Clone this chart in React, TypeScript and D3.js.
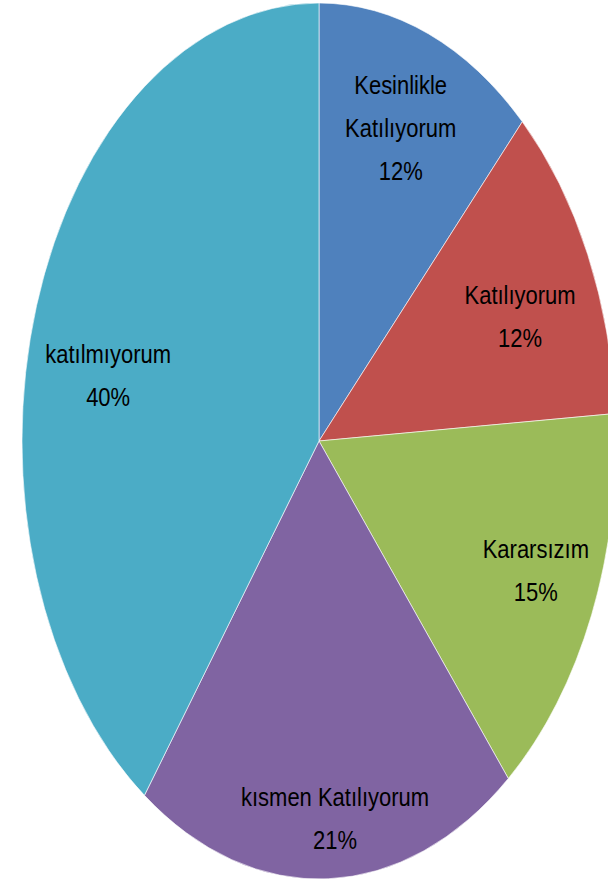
import React, { useEffect } from "react";
import * as d3 from "d3";

const categories = ["Kesinlikle Katılıyorum", "Katılıyorum", "Kararsızım", "kısmen Katılıyorum", "katılmıyorum"];
const labelLines = [["Kesinlikle", "Katılıyorum"], ["Katılıyorum"], ["Kararsızım"], ["kısmen Katılıyorum"], ["katılmıyorum"]];
const values = [12, 12, 15, 21, 40];
const colors = ["#4F81BD", "#C0504D", "#9BBB59", "#8064A2", "#4BACC6"];

// label anchor (fraction of rx, fraction of ry) relative to pie centre — layout only
const labelAnchor: [number, number][] = [
  [0.275, -0.755],
  [0.677, -0.325],
  [0.73, 0.256],
  [0.054, 0.821],
  [-0.71, -0.19],
];

const W = 608;
const H = 885;
const cx = 319;
const cy = 441;
const rx = 297;
const ry = 438;

export default function App() {
  useEffect(() => {
    document.body.style.margin = "0";
  }, []);
  const total = d3.sum(values);
  const pie = d3.pie<number>().sort(null).value((d) => d)(values);
  const arc = d3.arc<d3.PieArcDatum<number>>().innerRadius(0).outerRadius(ry);
  const fmt = (v: number) => `${Math.round((v / total) * 100)}%`;
  const lineH = 37.5;
  return (
    <svg width={W} height={H} style={{ position: "absolute", left: 0, top: 0 }}>
      <g transform={`translate(${cx},${cy}) scale(${rx / ry},1)`}>
        {pie.map((p, i) => (
          <path key={i} d={arc(p) || ""} fill={colors[i]} stroke="#ffffff" strokeOpacity={0.6} strokeWidth={1} vectorEffect="non-scaling-stroke" />
        ))}
      </g>
      {pie.map((p, i) => {
        const lines = [...labelLines[i], fmt(values[i])];
        const x = cx + labelAnchor[i][0] * rx;
        const y = cy + labelAnchor[i][1] * ry;
        const n = lines.length;
        return (
          <g key={i} transform={`translate(${x},${y}) scale(1,1.15)`}>
            <text textAnchor="middle" fontFamily="'Liberation Sans', Arial, sans-serif" fontSize={22} fill="#000">
              {lines.map((l, j) => (
                <tspan key={j} x={0} y={(j - (n - 1) / 2) * lineH + 23}>{l}</tspan>
              ))}
            </text>
          </g>
        );
      })}
    </svg>
  );
}
